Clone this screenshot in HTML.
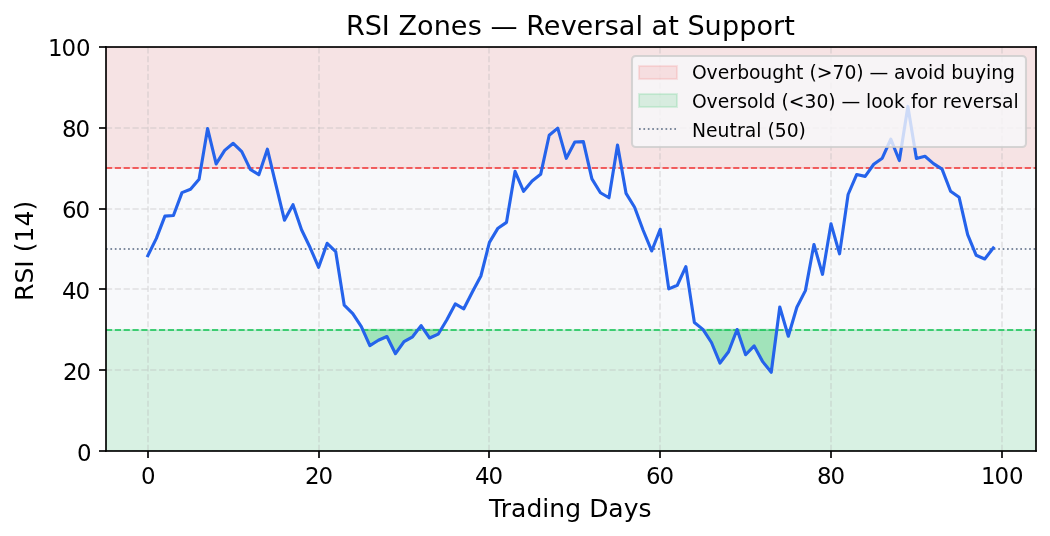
<!DOCTYPE html>
<html lang="en">
<head>
<meta charset="utf-8">
<title>RSI Zones — Reversal at Support</title>
<style>
html,body{margin:0;padding:0;background:#fff}
body{width:1050px;height:536px;overflow:hidden;font-family:"DejaVu Sans","Liberation Sans",sans-serif}
svg{display:block}
</style>
</head>
<body>
<svg width="1050" height="536" viewBox="0 0 1050 536" font-family="'DejaVu Sans', 'Liberation Sans', sans-serif" fill="#000">
<defs><clipPath id="ax"><rect x="106" y="47" width="930" height="404"/></clipPath></defs>
<rect width="1050" height="536" fill="#fff"/>
<rect x="106" y="47" width="930" height="404" fill="#f8f9fb"/>
<g clip-path="url(#ax)">
<rect x="106" y="47" width="930" height="121" fill="#f6e3e4" stroke="#ef4444" stroke-width="2.083" stroke-opacity="0.12"/>
<rect x="106" y="330" width="930" height="121" fill="#22c55e" stroke="#22c55e" stroke-width="2.083" fill-opacity="0.15" stroke-opacity="0.15"/>
<path d="M362.78 329.854 L369.865 345.546 L378.405 340.287 L386.945 336.52 L395.485 353.71 L404.025 341.588 L412.565 336.82 L417.875 329.854Z" fill="#22c55e" fill-opacity="0.3" stroke="#22c55e" stroke-opacity="0.3" stroke-width="2.083" stroke-linejoin="round"/>
<path d="M424.023 329.854 L429.645 338.016 L438.185 334.181 L440.78 329.854Z" fill="#22c55e" fill-opacity="0.3" stroke="#22c55e" stroke-opacity="0.3" stroke-width="2.083" stroke-linejoin="round"/>
<path d="M703.218 329.854 L711.463 342.491 L720.003 363.054 L728.543 351.744 L736.967 329.854Z" fill="#22c55e" fill-opacity="0.3" stroke="#22c55e" stroke-opacity="0.3" stroke-width="2.083" stroke-linejoin="round"/>
<path d="M737.185 329.854 L745.623 354.761 L754.163 345.946 L762.703 361.636 L771.243 372.284 L776.796 329.854Z" fill="#22c55e" fill-opacity="0.3" stroke="#22c55e" stroke-opacity="0.3" stroke-width="2.083" stroke-linejoin="round"/>
<path d="M786.464 329.854 L788.323 336.205 L790.198 329.854Z" fill="#22c55e" fill-opacity="0.3" stroke="#22c55e" stroke-opacity="0.3" stroke-width="2.083" stroke-linejoin="round"/>
<path d="M148 451V47M319 451V47M489 451V47M660 451V47M831 451V47M1002 451V47" fill="none" stroke="#b0b0b0" stroke-opacity="0.2508" stroke-width="2" stroke-dasharray="6.167 2.667"/>
<path d="M106 451H1036M106 370H1036M106 289H1036M106 209H1036M106 128H1036M106 47H1036" fill="none" stroke="#b0b0b0" stroke-opacity="0.2508" stroke-width="2" stroke-dasharray="6.167 2.667"/>
<path d="M106 168H1036" fill="none" stroke="#ef4444" stroke-opacity="0.8360" stroke-width="2" stroke-dasharray="6.167 2.667"/>
<path d="M106 330H1036" fill="none" stroke="#22c55e" stroke-opacity="0.8360" stroke-width="2" stroke-dasharray="6.167 2.667"/>
<path d="M106 249H1036" fill="none" stroke="#64748b" stroke-opacity="0.8360" stroke-width="2" stroke-dasharray="1.667 2.75"/>
<path d="M147.827 255.711 L156.367 238.427 L164.907 216.158 L173.447 215.485 L181.987 192.618 L190.527 189.318 L199.067 179.247 L207.607 128.549 L216.146 163.909 L224.686 150.362 L233.226 143.298 L241.766 151.601 L250.306 169.391 L258.846 174.779 L267.386 149.188 L275.926 184.783 L284.466 220.132 L293.006 204.741 L301.546 229.78 L310.086 247.539 L318.626 267.331 L327.166 243.318 L335.706 251.594 L344.246 305.176 L352.786 313.652 L361.326 326.632 L369.865 345.546 L378.405 340.287 L386.945 336.52 L395.485 353.71 L404.025 341.588 L412.565 336.82 L421.105 325.617 L429.645 338.016 L438.185 334.181 L446.725 319.944 L455.265 303.93 L463.805 308.771 L472.345 291.94 L480.885 275.992 L489.425 242.362 L497.965 228.181 L506.505 222.362 L515.045 171.386 L523.584 191.278 L532.124 181.045 L540.664 174.345 L549.204 135.273 L557.744 128.146 L566.284 158.332 L574.824 142.008 L583.364 141.589 L591.904 178.858 L600.444 192.734 L608.984 197.765 L617.524 145.023 L626.064 193.367 L634.604 207.284 L643.144 230.259 L651.684 250.955 L660.224 229.29 L668.764 288.854 L677.303 285.251 L685.843 266.607 L694.383 322.513 L702.923 329.403 L711.463 342.491 L720.003 363.054 L728.543 351.744 L737.083 329.552 L745.623 354.761 L754.163 345.946 L762.703 361.636 L771.243 372.284 L779.783 307.032 L788.323 336.205 L796.863 307.286 L805.403 290.633 L813.943 244.465 L822.483 274.372 L831.022 223.826 L839.562 253.86 L848.102 194.506 L856.642 174.568 L865.182 176.347 L873.722 164.239 L882.262 158.158 L890.802 139.197 L899.342 160.544 L907.882 106.436 L916.422 158.488 L924.962 156.267 L933.502 163.623 L942.042 169.111 L950.582 191.263 L959.122 197.284 L967.662 234.634 L976.202 255.297 L984.741 259.001 L993.281 247.976" fill="none" stroke="#2563eb" stroke-width="3.125" stroke-linejoin="round" stroke-linecap="square"/>
</g>
<path d="M148 451V458M319 451V458M489 451V458M660 451V458M831 451V458M1002 451V458" stroke="#000" stroke-opacity="0.8360" stroke-width="2" fill="none"/>
<path d="M106 451H99M106 370H99M106 289H99M106 209H99M106 128H99M106 47H99" stroke="#000" stroke-opacity="0.8360" stroke-width="2" fill="none"/>
<path d="M106 451.833V46.167" stroke="#000" stroke-opacity="0.8360" stroke-width="2" fill="none"/>
<path d="M1036 451.833V46.167" stroke="#000" stroke-opacity="0.8360" stroke-width="2" fill="none"/>
<path d="M105.167 451H1036.833" stroke="#000" stroke-opacity="0.8360" stroke-width="2" fill="none"/>
<path d="M105.167 47H1036.833" stroke="#000" stroke-opacity="0.8360" stroke-width="2" fill="none"/>
<text id="xt0" x="140.907" y="483.501" font-size="22.917">0</text>
<text id="xt20" x="304.891 318.391" y="483.521" font-size="22.917">20</text>
<text id="xt40" x="474.89 488.39" y="483.501" font-size="22.917">40</text>
<text id="xt60" x="645.901 659.526" y="483.531" font-size="22.917">60</text>
<text id="xt80" x="816.882 830.382" y="483.501" font-size="22.917">80</text>
<text id="xt100" x="980.884 994.509 1009.009" y="483.526" font-size="22.917">100</text>
<text id="yt0" x="76.906" y="460.506" font-size="22.917">0</text>
<text id="yt20" x="62.901 76.401" y="379.506" font-size="22.917">20</text>
<text id="yt40" x="61.896 75.396" y="298.506" font-size="22.917">40</text>
<text id="yt60" x="61.896 75.521" y="217.526" font-size="22.917">60</text>
<text id="yt80" x="61.876 75.376" y="136.511" font-size="22.917">80</text>
<text id="yt100" x="47.911 61.536 76.036" y="55.526" font-size="22.917">100</text>
<text id="xlabel" x="489.029 500.779 510.904 526.404 542.279 549.279 565.154 581.029 589.279 608.154 623.654 638.404" y="516.521" font-size="25.000">Trading Days</text>
<text id="ylabel" transform="translate(32.521 250.859) rotate(-90)" x="-50.062 -32.688 -16.812 -9.312 -1.312 8.438 24.312 40.312" y="0" font-size="25.000">RSI (14)</text>
<text id="title" x="346.002 364.752 381.627 389.752 398.377 417.002 433.627 450.627 467.627 481.877 490.502 517.752 526.127 543.627 560.627 576.377 593.377 604.627 618.627 635.502 643.002 651.377 668.252 678.877 687.502 704.377 721.877 739.127 756.377 773.002 784.252" y="34.504" font-size="27.083">RSI Zones — Reversal at Support</text>
<rect x="632" y="56" width="394" height="91" rx="3.75" ry="3.75" fill="#f8f8fa" stroke="#cccccc" stroke-width="2.083" fill-opacity="0.8" stroke-opacity="0.8"/>
<rect x="639" y="66" width="38" height="13" fill="#ef4444" stroke="#ef4444" stroke-width="2.083" fill-opacity="0.12" stroke-opacity="0.12"/>
<rect x="639" y="94" width="38" height="13" fill="#22c55e" stroke="#22c55e" stroke-width="2.083" fill-opacity="0.15" stroke-opacity="0.15"/>
<path d="M639 129H676.5" fill="none" stroke="#64748b" stroke-opacity="0.8360" stroke-width="2" stroke-dasharray="1.667 2.75"/>
<text id="lg1" x="692.031 706.406 717.781 729.281 737.156 749.031 760.156 772.281 784.156 796.031 803.406 809.406 816.781 832.531 844.406 856.281 863.531 869.531 888.156 893.906 905.406 916.781 927.906 933.281 945.156 951.156 963.031 974.906 986.031 991.156 1003.031" y="78.531" font-size="18.750">Overbought (&gt;70) — avoid buying</text>
<text id="lg2" x="691.911 706.536 717.661 729.161 737.286 746.911 758.286 763.411 775.286 781.536 788.661 804.411 816.536 828.161 835.411 841.411 860.036 866.036 871.161 882.536 893.911 904.911 910.911 917.411 929.036 936.661 942.661 950.161 961.661 972.786 984.536 992.161 1002.036 1013.536" y="107.533" font-size="18.750">Oversold (&lt;30) — look for reversal</text>
<text id="lg3" x="692.026 705.901 717.401 729.526 736.901 744.776 756.276 761.401 767.401 774.776 786.651 798.526" y="136.529" font-size="18.750">Neutral (50)</text>
</svg>
</body>
</html>
